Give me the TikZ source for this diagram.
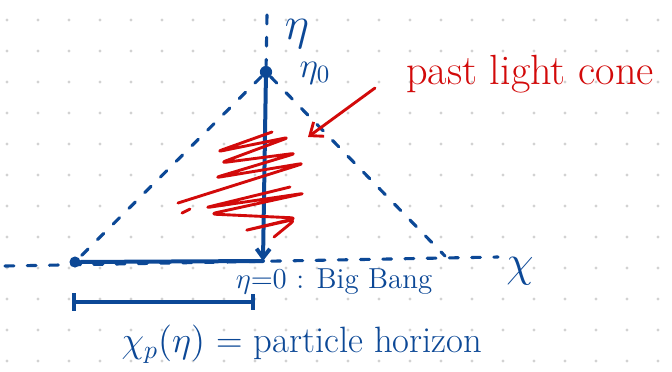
\RequirePackage{fix-cm}
\documentclass[tikz,border=0pt]{standalone}
\usepackage{amsmath, amssymb}
\usepackage{tikz}
\usetikzlibrary{calc, positioning, arrows.meta}
\usepackage{xcolor}
\definecolor{ink}{RGB}{12, 72, 150}
\definecolor{pen}{RGB}{210, 10, 10}

\begin{document}
\begin{tikzpicture}[x=0.45pt, y=-0.45pt, line cap=round, line join=round,
  ink line/.style={ink, line width=1.8pt},
  dash line/.style={ink, line width=1.4pt, dash pattern=on 4pt off 6pt},
  lab/.style={ink, inner sep=0pt}]
  % Page and dot grid
  \useasboundingbox (0,0) rectangle (672,371);
  \foreach \i in {0,...,21}
    \foreach \j in {0,...,11}
      \fill[gray!35] (7+31*\i, 20+31*\j) circle (0.7pt);
  % Events
  \node[circle, fill=ink, inner sep=0pt, minimum size=5.5pt] (eta0) at (266,72) {};
  \node[circle, fill=ink, inner sep=0pt, minimum size=5pt] (chip) at (75,262) {};
  \coordinate (top) at (267,15);
  \coordinate (origin) at (263,261);
  \coordinate (axl) at (5,266);
  \coordinate (axr) at (498,257);
  \coordinate (rcone) at (445,256);
  % Axes
  \draw[dash line] (top) -- (eta0);
  \draw[dash line] (axl) -- (axr);
  \draw[ink line, -{Straight Barb[length=4pt, width=6pt]}] (eta0) -- (origin);
  \draw[ink line] (chip) -- (origin);
  % Light cone edges
  \draw[dash line] (eta0) -- (chip);
  \draw[dash line] (eta0) -- (rcone);
  % Scribble inside the cone
  \draw[pen, line width=1.3pt, rounded corners=3pt] (272,132) -- (216,152) -- (290,137) -- (220,163)
    -- (297,153) -- (214,178) -- (305,163) -- (178,203);
  \draw[pen, line width=1.3pt, rounded corners=3pt] (290,187) -- (204,208) -- (306,193) -- (210,214)
    -- (297,218) -- (243,231) -- (296,219) -- (274,237);
  \draw[pen, line width=1.3pt] (182,213) -- (190,209);
  % Labels
  \node[lab, font=\fontsize{21}{23}\selectfont] (etalab) at (297,34) {$\eta$};
  \node[lab, font=\fontsize{16}{18}\selectfont] (eta0lab) at (315,73) {$\eta_0$};
  \node[lab, font=\fontsize{20}{22}\selectfont] (xlab) at (520,271) {$\chi$};
  \node[lab, font=\fontsize{13}{15}\selectfont] (bang) at (334,282) {$\eta{=}0$ : Big Bang};
  \node[text=pen, inner sep=0pt, font=\fontsize{19}{22}\selectfont] (cone) at (530,74) {past light cone};
  \coordinate (tail) at (375,88);
  \coordinate (tip) at (308,137);
  \draw[pen, line width=1.3pt, -{Straight Barb[length=5pt, width=8pt]}] (tail) -- (tip);
  % Particle horizon
  \coordinate (hl) at (72,302);
  \coordinate (hr) at (255,302);
  \draw[ink line, {Bar[width=8pt]}-{Bar[width=7pt]}] (hl) -- (hr);
  \node[lab, font=\fontsize{16.5}{19}\selectfont] (horizon) at (302,344) {$\chi_p(\eta)$ = particle horizon};
\end{tikzpicture}
\end{document}
